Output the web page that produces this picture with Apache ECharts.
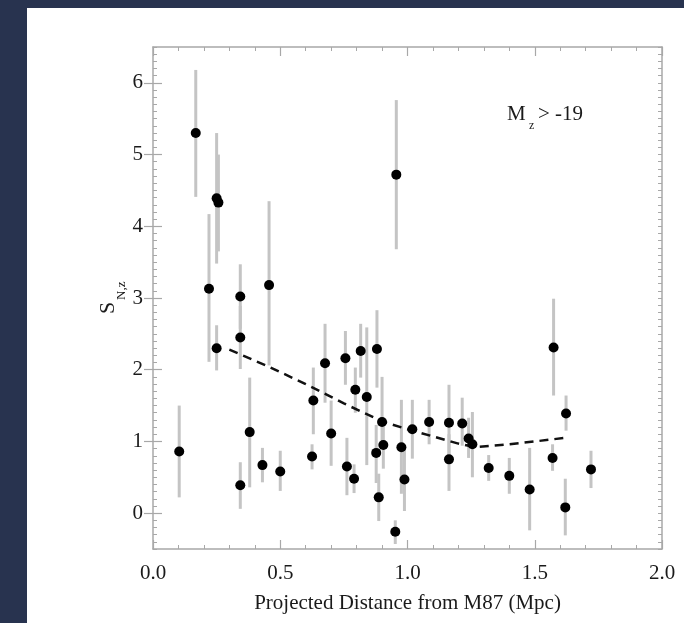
<!DOCTYPE html>
<html><head><meta charset="utf-8">
<script src="https://cdn.jsdelivr.net/npm/echarts@6/dist/echarts.min.js"></script>
<style>html,body{margin:0;padding:0;background:#28334f;}#c{width:684px;height:623px;}</style>
</head><body><div id="c"></div>
<script>
// Projected distance from M87 (Mpc)
const distX = [0.103,0.168,0.220,0.250,0.257,0.250,0.343,0.343,0.343,0.380,0.430,0.456,0.500,0.625,0.630,0.676,0.700,0.756,0.762,0.795,0.790,0.816,0.840,0.880,0.877,0.887,0.900,0.905,0.952,0.956,0.976,0.988,1.019,1.085,1.163,1.163,1.215,1.240,1.255,1.319,1.400,1.480,1.574,1.570,1.623,1.620,1.721];
// S_N,z values
const snz = [0.86,5.30,3.13,4.39,4.33,2.30,3.02,2.45,0.39,1.13,0.67,3.18,0.58,0.79,1.57,2.09,1.11,2.16,0.65,1.72,0.48,2.26,1.62,2.29,0.84,0.22,1.27,0.95,-0.26,4.72,0.92,0.47,1.17,1.27,1.26,0.75,1.25,1.04,0.96,0.63,0.52,0.33,2.31,0.77,1.39,0.08,0.61];
// error bar lower / upper ends
const errLo = [0.22,4.41,2.11,3.48,3.65,1.99,2.57,2.01,0.06,0.36,0.43,2.06,0.31,0.61,1.10,1.54,0.66,1.79,0.25,1.40,0.28,1.89,0.67,1.75,0.42,-0.11,0.97,0.62,-0.43,3.68,0.27,0.03,0.76,0.96,0.77,0.31,0.94,0.77,0.50,0.45,0.27,-0.24,1.64,0.59,1.15,-0.31,0.35];
const errHi = [1.50,6.18,4.17,5.30,5.00,2.62,3.47,2.89,0.71,1.89,0.91,4.35,0.87,0.96,2.03,2.64,1.57,2.54,1.05,2.03,0.68,2.64,2.59,2.83,1.23,0.55,1.90,1.28,-0.10,5.76,1.58,0.91,1.58,1.58,1.79,1.10,1.61,1.33,1.41,0.81,0.77,0.91,2.99,0.96,1.64,0.48,0.87];
// dashed trend curve
const trendX = [0.30,0.45,0.60,0.75,0.90,1.00,1.10,1.20,1.27,1.40,1.50,1.62];
const trendY = [2.28,2.05,1.80,1.53,1.28,1.17,1.07,0.97,0.92,0.96,1.00,1.05];
const yMajorTicks = [0,1,2,3,4,5,6];
const xLabel = 'Projected Distance from M87 (Mpc)';

const FONT = '"Liberation Serif","DejaVu Serif",serif';
const AX = '#a8a8a8';
const chart = echarts.init(document.getElementById('c'), null, {renderer:'canvas'});

function xAx(pos, show){
  return {type:'value', position:pos, min:0, max:2, interval:0.5,
    axisLine:{show:true, onZero:false, lineStyle:{color:AX, width:1.5}},
    axisTick:{show:true, inside:true, length:9, lineStyle:{color:AX, width:1.2}},
    minorTick:{show:true, splitNumber:5, length:4, lineStyle:{color:AX, width:1}},
    splitLine:{show:false}, minorSplitLine:{show:false},
    axisLabel:{show:show, fontFamily:FONT, fontSize:21, color:'#1a1a1a', margin:14,
      formatter:v=>v.toFixed(1)},
    name: show ? xLabel : '', nameLocation:'middle', nameGap:44,
    nameTextStyle:{fontFamily:FONT, fontSize:21, color:'#1a1a1a'}
  };
}
function yMinor(pos){
  return {type:'value', position:pos, min:-0.5, max:6.5, interval:0.1,
    axisLine:{show:true, onZero:false, lineStyle:{color:AX, width:1.5}},
    axisTick:{show:true, inside:true, length:4, lineStyle:{color:AX, width:1}},
    axisLabel:{show:false}, splitLine:{show:false}};
}
function yMajor(pos, show){
  return {type:'value', position:pos, min:-0.5, max:6.5,
    axisLine:{show:false},
    axisTick:{show:true, inside:true, length:9, customValues:yMajorTicks, lineStyle:{color:AX, width:1.2}},
    axisLabel:{show:show, customValues:yMajorTicks, fontFamily:FONT, fontSize:21, color:'#1a1a1a', margin:10},
    splitLine:{show:false}};
}

const option = {
  backgroundColor:'#28334f',
  animation:false,
  grid:{left:153, right:22, top:47, bottom:74, containLabel:false},
  xAxis:[xAx('bottom', true), xAx('top', false)],
  yAxis:[yMinor('left'), yMajor('left', true), yMinor('right'), yMajor('right', false)],
  graphic:[
    {type:'rect', z:-10, shape:{x:27, y:8, width:657, height:615}, style:{fill:'#ffffff'}},
    {type:'group', x:108, y:314, rotation:Math.PI/2, children:[
      {type:'text', x:0, y:0, style:{text:'S', fontFamily:FONT, fontSize:22, fill:'#1a1a1a', textAlign:'left', textVerticalAlign:'middle'}},
      {type:'text', x:14, y:14, style:{text:'N,z', fontFamily:FONT, fontSize:13, fill:'#1a1a1a', textAlign:'left', textVerticalAlign:'middle'}}
    ]},
    {type:'text', x:507, y:104, style:{text:'M', fontFamily:FONT, fontSize:21, fill:'#1a1a1a'}},
    {type:'text', x:529, y:120, style:{text:'z', fontFamily:FONT, fontSize:12, fill:'#1a1a1a'}},
    {type:'text', x:538, y:104, style:{text:'> -19', fontFamily:FONT, fontSize:21, fill:'#1a1a1a'}}
  ],
  series:[
    {type:'custom', coordinateSystem:'cartesian2d', xAxisIndex:0, yAxisIndex:0, z:1,
      data: distX.map((x,i)=>[x, errLo[i], errHi[i]]),
      encode:{x:0, y:[1,2]},
      renderItem:function(params, api){
        const a = api.coord([api.value(0), api.value(1)]);
        const b = api.coord([api.value(0), api.value(2)]);
        return {type:'line', shape:{x1:a[0], y1:a[1], x2:b[0], y2:b[1]},
          style:{stroke:'#c4c4c4', lineWidth:3}};
      }},
    {type:'line', xAxisIndex:0, yAxisIndex:0, z:2, symbol:'none',
      data: trendX.map((x,i)=>[x, trendY[i]]),
      lineStyle:{color:'#111', width:2.5, type:[9,6]}},
    {type:'scatter', xAxisIndex:0, yAxisIndex:0, z:3, symbol:'circle', symbolSize:10,
      itemStyle:{color:'#000', opacity:1},
      data: distX.map((x,i)=>[x, snz[i]])}
  ]
};
chart.setOption(option);
</script>
</body></html>
